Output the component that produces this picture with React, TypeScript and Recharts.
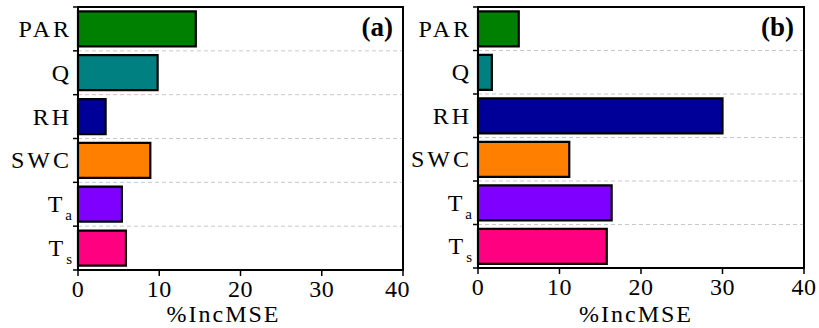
import React from "react"
import {
  BarChart,
  Bar,
  Cell,
  XAxis,
  YAxis,
  CartesianGrid,
  ReferenceArea,
  Label,
} from "recharts"

// predictors, top to bottom; "_" marks a subscript
const categories = ["PAR", "Q", "RH", "SWC", "T_a", "T_s"]
const incMseA = [14.5, 9.8, 3.4, 8.9, 5.4, 5.9]
const incMseB = [5.0, 1.7, 30.0, 11.2, 16.4, 15.8]
const barColors = ["#008000", "#008080", "#000099", "#ff8000", "#8000ff", "#ff0080"]
const xTicks = [0, 10, 20, 30, 40]

const FONT = '"Liberation Serif", "Times New Roman", serif'
const CHART_H = 328
const TOP = 7

const makeCatTick = (axisX: number, band: number) => (props: any) => {
  const { x, y, payload, index } = props
  const [main, sub] = String(payload.value).split("_")
  const last = index === categories.length - 1
  return (
    <g>
      <line x1={axisX - 5} x2={axisX} y1={y - band / 2} y2={y - band / 2} stroke="#000" strokeWidth={1.5} />
      {last && (
        <line x1={axisX - 5} x2={axisX} y1={y + band / 2} y2={y + band / 2} stroke="#000" strokeWidth={1.5} />
      )}
      <text
        x={x}
        y={y}
        dy={8}
        textAnchor="end"
        fontFamily={FONT}
        fontSize={24}
        letterSpacing={3}
        fill="#000"
      >
        {main}
        {sub && (
          <tspan dy={8} fontSize={15} letterSpacing={0}>
            {sub}
          </tspan>
        )}
      </text>
    </g>
  )
}

interface PanelProps {
  values: number[]
  tag: string
  width: number
  yAxisWidth: number
  right: number
  xAxisHeight: number
  labelDx: number
}

const Panel: React.FC<PanelProps> = ({
  values,
  tag,
  width,
  yAxisWidth,
  right,
  xAxisHeight,
  labelDx,
}) => {
  const data = categories.map((name, i) => ({ name, value: values[i] }))
  const band = (CHART_H - TOP - xAxisHeight) / categories.length
  const CatTick = makeCatTick(yAxisWidth, band)
  return (
    <BarChart
      width={width}
      height={CHART_H}
      data={data}
      layout="vertical"
      barCategoryGap="10%"
      margin={{ top: TOP, right: right, bottom: 0, left: 0 }}
    >
      <CartesianGrid
        vertical={false}
        stroke="#c8c8c8"
        strokeDasharray="4 3"
        horizontalCoordinatesGenerator={({ offset }: any) =>
          categories.map((_, i) => offset.top + ((i + 1) * offset.height) / categories.length)
        }
      />
      <XAxis
        type="number"
        domain={[0, 40]}
        ticks={xTicks}
        height={xAxisHeight}
        axisLine={{ stroke: "#000", strokeWidth: 2 }}
        tickLine={{ stroke: "#000", strokeWidth: 1.5 }}
        tickSize={6}
        tickMargin={4}
        tick={{ fill: "#000", fontSize: 24, fontFamily: FONT, letterSpacing: 0.5 }}
      >
        <Label
          value="%IncMSE"
          position="insideBottom"
          offset={6}
          dx={labelDx}
          style={{ fill: "#000", fontSize: 24, fontFamily: FONT, letterSpacing: 2 }}
        />
      </XAxis>
      <YAxis
        type="category"
        dataKey="name"
        width={yAxisWidth}
        axisLine={{ stroke: "#000", strokeWidth: 2 }}
        tickLine={false}
        tickSize={0}
        tickMargin={6}
        tick={<CatTick />}
      />
      <Bar dataKey="value" stroke="#000" strokeWidth={2.2} isAnimationActive={false}>
        {data.map((d, i) => (
          <Cell key={d.name} fill={barColors[i]} />
        ))}
      </Bar>
      <ReferenceArea
        x1={0}
        x2={40}
        fill="none"
        fillOpacity={0}
        stroke="#000"
        strokeWidth={2}
        strokeOpacity={1}
        ifOverflow="visible"
      >
        <Label
          value={tag}
          position="insideTopRight"
          offset={10}
          style={{ fill: "#000", fontSize: 27, fontWeight: "bold", fontFamily: FONT }}
        />
      </ReferenceArea>
    </BarChart>
  )
}

const App: React.FC = () => {
  return (
    <div
      style={{
        position: "absolute",
        left: 0,
        top: 0,
        width: 819,
        height: 328,
        background: "#fff",
      }}
    >
      <div style={{ position: "absolute", left: 0, top: 0 }}>
        <Panel
          values={incMseA}
          tag="(a)"
          width={410}
          yAxisWidth={78}
          right={7}
          xAxisHeight={58}
          labelDx={-17}
        />
      </div>
      <div style={{ position: "absolute", left: 410, top: 0 }}>
        <Panel
          values={incMseB}
          tag="(b)"
          width={409}
          yAxisWidth={68}
          right={15}
          xAxisHeight={60}
          labelDx={-5}
        />
      </div>
    </div>
  )
}

export default App
